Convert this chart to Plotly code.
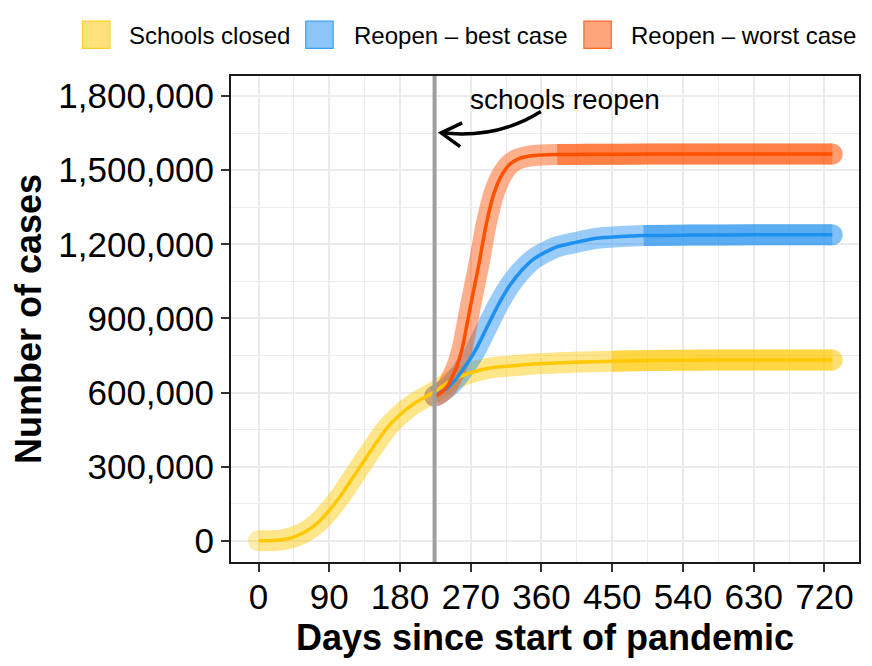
import numpy as np
import plotly.graph_objects as go

# ---------------------------------------------------------------------------
# Data (days since start, cumulative cases)
closed_days = [0, 15, 30, 45, 60, 75, 90, 105, 120, 135, 150, 165, 180, 195,
               210, 224, 240, 255, 270, 285, 300, 330, 360, 400, 450, 500,
               550, 600, 650, 700, 730]
closed_cases = [0, 500, 4000, 15000, 37000, 72000, 123000, 185000, 256000,
                327000, 398000, 462000, 510000, 549000, 578000, 603000,
                638000, 663000, 680000, 693000, 702000, 710000, 717000,
                722000, 727000, 730000, 731000, 732000, 732000, 732000,
                732000]

best_days = [224, 240, 250, 260, 275, 290, 305, 320, 335, 350, 365, 380, 400,
             430, 460, 490, 550, 630, 730]
best_cases = [585000, 618000, 650000, 692000, 765000, 860000, 955000,
              1035000, 1095000, 1140000, 1168000, 1190000, 1205000, 1224000,
              1231000, 1235000, 1237000, 1238000, 1238000]

worst_days = [224, 230, 240, 250, 255, 260, 270, 280, 290, 300, 310, 320,
              330, 345, 360, 380, 420, 500, 600, 730]
worst_cases = [585000, 594000, 624000, 688000, 730000, 790000, 955000,
               1112000, 1285000, 1410000, 1483000, 1525000, 1545000, 1557000,
               1561000, 1563000, 1564000, 1565000, 1565000, 1565000]

reopen_day = 224

scenarios = ["Schools closed", "Reopen \u2013 best case", "Reopen \u2013 worst case"]
colors = ["#FFC800", "#1E90F0", "#FF5000"]
key_fill = ["rgba(255,200,0,0.6)", "rgba(30,144,240,0.6)", "rgba(255,80,0,0.6)"]
# where the ensemble band gets denser (plateau)
dense_from = [450, 490, 380]

series = [
    (np.array(closed_days), np.array(closed_cases)),
    (np.array(best_days), np.array(best_cases)),
    (np.array(worst_days), np.array(worst_cases)),
]

FONT = "Liberation Sans, Arial, sans-serif"
# the page body adds an 8px margin, so the figure is drawn a bit smaller
OFF = 8
W, H = 856, 650
ML, MR, MT, MB = 223, 3, 68, 90


def px_x(px):
    # page pixel -> paper coordinate
    return (px - OFF - ML) / (W - ML - MR)


def px_y(py):
    return (H - MB - (py - OFF)) / (H - MT - MB)


fig = go.Figure()

BAND_W = 21


def band(x, y, color, opacity, cap_start=False):
    sizes = [0] * len(x)
    sizes[-1] = BAND_W
    if cap_start:
        sizes[0] = BAND_W
    return go.Scatter(
        x=x, y=y, mode="lines+markers",
        line=dict(color=color, width=BAND_W, shape="spline", smoothing=0.8),
        marker=dict(color=color, size=sizes, line=dict(width=0)),
        opacity=opacity, showlegend=False, hoverinfo="skip",
    )


# wide translucent bands
for (x, y), c, d in zip(series, colors, dense_from):
    fig.add_trace(band(x, y, c, 0.45, cap_start=True))
    m = x >= d
    fig.add_trace(band(x[m], y[m], c, 0.5))

# thin central lines
for (x, y), c, name in zip(series, colors, scenarios):
    fig.add_trace(go.Scatter(
        x=x, y=y, mode="lines", name=name,
        line=dict(color=c, width=3.5, shape="spline", smoothing=0.8),
        showlegend=False,
    ))

shapes = [
    dict(type="line", xref="x", yref="paper", x0=reopen_day, x1=reopen_day,
         y0=0, y1=1, line=dict(color="#9E9E9E", width=4), layer="above"),
    dict(type="path", xref="x", yref="y",
         path="M 359.2,1737000 Q 304.2,1626000 232.4,1651000",
         line=dict(color="black", width=3.5)),
    dict(type="path", xref="x", yref="y",
         path="M 259.1,1691000 L 232.4,1651000 L 256.5,1595000",
         line=dict(color="black", width=3.5)),
]

annotations = [
    dict(x=390, y=1784000, xref="x", yref="y", text="schools reopen",
         showarrow=False, font=dict(family=FONT, size=28, color="black"),
         xanchor="center", yanchor="middle"),
]

# hand-made legend with square keys (positions in page pixels)
key_left = [82, 306, 585]
text_left = [126.5, 352, 630]
for kl, tl, fill, c, name in zip(key_left, text_left, key_fill, colors, scenarios):
    shapes.append(dict(type="rect", xref="paper", yref="paper",
                       x0=px_x(kl), x1=px_x(kl + 27.5),
                       y0=px_y(48), y1=px_y(20.5),
                       fillcolor=fill, line=dict(color=c, width=1.2),
                       opacity=0.85))
    annotations.append(dict(x=px_x(tl), y=px_y(34.5), xref="paper", yref="paper",
                            text=name, showarrow=False, xanchor="left",
                            yanchor="middle",
                            font=dict(family=FONT, size=24, color="black")))

axis_common = dict(
    showline=True, mirror=True, linecolor="#1a1a1a", linewidth=2,
    ticks="outside", ticklen=8, tickwidth=2, tickcolor="#333333",
    showgrid=True, gridcolor="#EBEBEB", gridwidth=2, zeroline=False,
    tickfont=dict(family=FONT, size=35, color="black"),
)

fig.update_layout(
    width=W, height=H,
    margin=dict(l=ML, r=MR, t=MT, b=MB),
    paper_bgcolor="white", plot_bgcolor="white",
    showlegend=False,
    shapes=shapes, annotations=annotations,
    xaxis=dict(
        axis_common, range=[-35, 764], tick0=0, dtick=90,
        ticklabelstandoff=-5,
        minor=dict(tick0=0, dtick=45, showgrid=True, gridcolor="#EBEBEB",
                   gridwidth=1.2),
        title=dict(text="<b>Days since start of pandemic</b>", standoff=14,
                   font=dict(family=FONT, size=36, color="black")),
    ),
    yaxis=dict(
        axis_common, range=[-86000, 1881000], tick0=0, dtick=300000,
        tickformat=",d",
        minor=dict(tick0=0, dtick=150000, showgrid=True, gridcolor="#EBEBEB",
                   gridwidth=1.2),
        title=dict(text="<b>Number of cases</b>", standoff=12,
                   font=dict(family=FONT, size=36, color="black")),
    ),
)

fig.write_html("out.html")
